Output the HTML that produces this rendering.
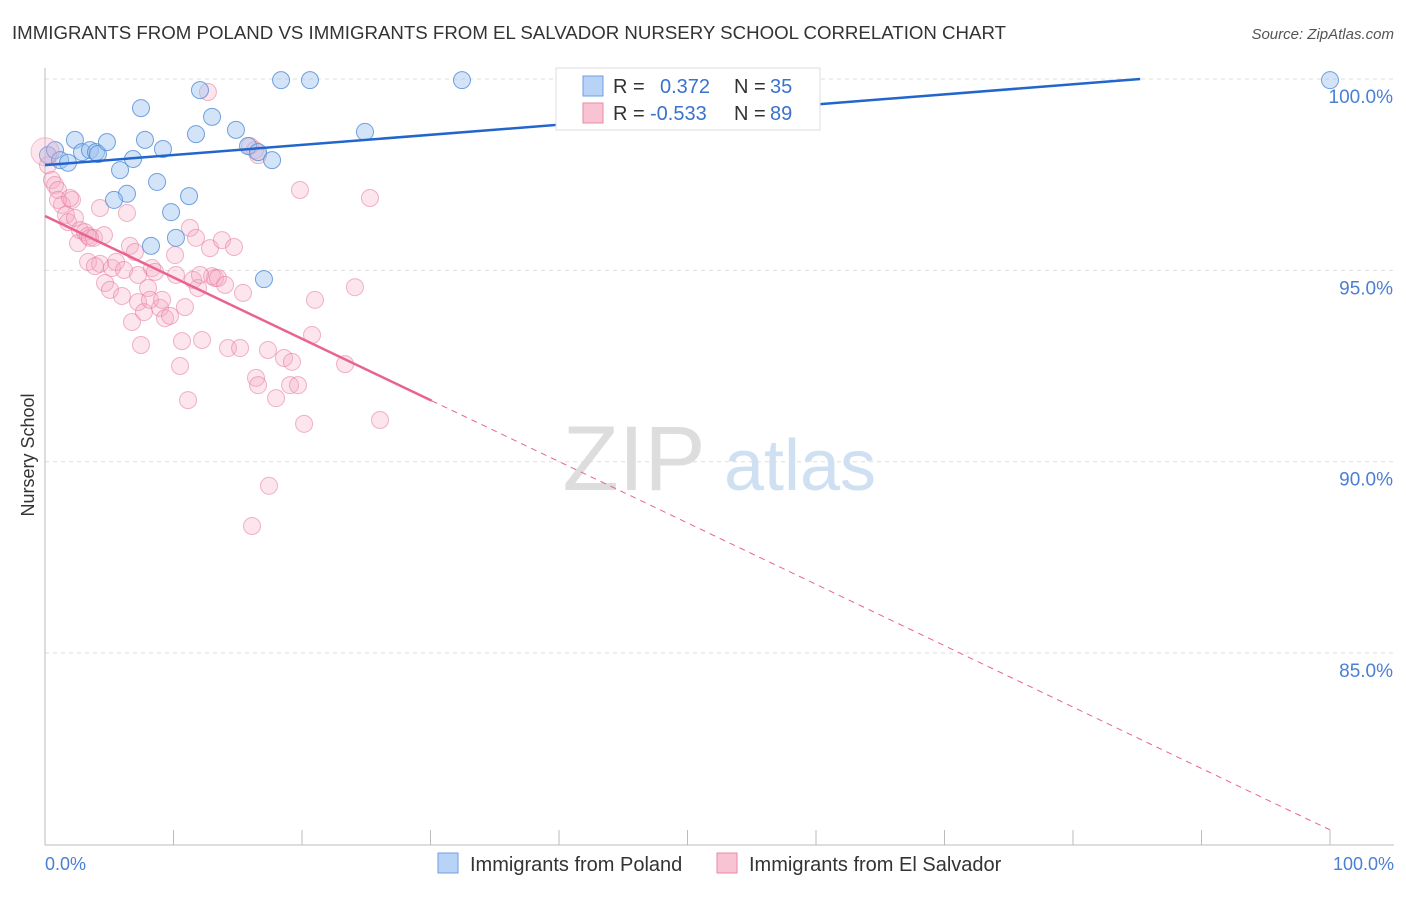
<!DOCTYPE html>
<html><head><meta charset="utf-8"><style>
body{margin:0;background:#fff;font-family:"Liberation Sans",sans-serif;}
svg text{font-family:"Liberation Sans",sans-serif;}
</style></head><body>
<svg width="1406" height="892" viewBox="0 0 1406 892">
<text x="12" y="39" font-size="18" fill="#333" textLength="994" lengthAdjust="spacingAndGlyphs">IMMIGRANTS FROM POLAND VS IMMIGRANTS FROM EL SALVADOR NURSERY SCHOOL CORRELATION CHART</text>
<text x="1394" y="39" font-size="15" fill="#555" text-anchor="end" font-style="italic">Source: ZipAtlas.com</text>
<g>
<text x="634" y="490" font-size="92" fill="#ddd" text-anchor="middle" font-family="Liberation Serif, serif">ZIP</text>
<text x="800" y="490" font-size="72" fill="#cfe0f3" text-anchor="middle">atlas</text>
</g>
<g id="grid"></g>
<g id="axes"></g>
<g id="marks"></g>
<text transform="translate(34,455) rotate(-90)" font-size="18" fill="#333" text-anchor="middle">Nursery School</text>
<text x="45" y="870" font-size="18" fill="#4a7fd4">0.0%</text>
<text x="1394" y="870" font-size="18" fill="#4a7fd4" text-anchor="end">100.0%</text>
<g>
<rect x="556" y="68" width="264" height="62" fill="#fff" stroke="#ddd"/>
<rect x="583" y="76" width="20" height="20" fill="#b8d3f5" stroke="#6d9fe0"/>
<text x="613" y="93" font-size="20" fill="#333">R = </text><text x="660" y="93" font-size="20" fill="#3a72cc">0.372</text>
<text x="734" y="93" font-size="20" fill="#333">N = </text><text x="770" y="93" font-size="20" fill="#3a72cc">35</text>
<rect x="583" y="103" width="20" height="20" fill="#f8c3d2" stroke="#ea8aa7"/>
<text x="613" y="120" font-size="20" fill="#333">R = </text><text x="650" y="120" font-size="20" fill="#3a72cc">-0.533</text>
<text x="734" y="120" font-size="20" fill="#333">N = </text><text x="770" y="120" font-size="20" fill="#3a72cc">89</text>
</g>
<g>
<rect x="438" y="853" width="20" height="20" fill="#b8d3f5" stroke="#6d9fe0"/>
<text x="470" y="871" font-size="20" fill="#333">Immigrants from Poland</text>
<rect x="717" y="853" width="20" height="20" fill="#f8c3d2" stroke="#ea8aa7"/>
<text x="749" y="871" font-size="20" fill="#333">Immigrants from El Salvador</text>
</g>
</svg>
<script>
const yTicks=[100,95,90,85];
const yTickLabels=["100.0%","95.0%","90.0%","85.0%"];
const xTicks=[0,10,20,30,40,50,60,70,80,90,100];
const polandPx=[[48,155],[55,150],[75,140],[60,160],[68,163],[82,152],[90,150],[96,152],[98,154],[107,142],[141,108],[145,140],[133,159],[120,170],[127,194],[157,182],[163,149],[114,200],[171,212],[189,196],[176,238],[151,246],[200,90],[212,117],[196,134],[236,130],[248,146],[258,152],[272,160],[264,279],[281,80],[310,80],[365,132],[462,80],[1330,80]];
const salvPx=[[48,165],[52,180],[55,185],[58,190],[62,205],[66,215],[68,222],[72,200],[75,218],[78,243],[80,230],[85,232],[88,236],[94,238],[100,208],[104,235],[88,262],[100,264],[105,283],[110,290],[112,268],[116,262],[122,296],[124,270],[127,213],[130,246],[132,322],[138,275],[138,302],[141,345],[144,312],[148,288],[152,268],[155,272],[160,308],[165,318],[170,316],[175,255],[176,275],[185,307],[182,341],[180,366],[188,400],[190,228],[193,280],[196,238],[198,288],[202,340],[208,92],[210,248],[212,276],[215,278],[218,278],[222,240],[225,285],[228,348],[234,247],[240,348],[243,293],[250,146],[255,150],[258,155],[252,526],[256,378],[258,385],[268,350],[269,486],[276,398],[284,358],[290,385],[292,362],[298,385],[300,190],[304,424],[312,335],[315,300],[345,364],[355,287],[370,198],[380,420],[58,200],[70,198],[95,266],[150,300],[162,300],[135,252],[200,275],[90,238]];
const polandX=polandPx.map(p=>+((p[0]-45)/12.85).toFixed(2));
const polandY=polandPx.map(p=>+(100-(p[1]-79)/38.27).toFixed(2));
const salvX=salvPx.map(p=>+((p[0]-45)/12.85).toFixed(2));
const salvY=salvPx.map(p=>+(100-(p[1]-79)/38.27).toFixed(2));
const polandTrend=[97.75,100.39];
const salvTrend=[96.42,80.38];
const salvSolidEnd=30.1;

const NS="http://www.w3.org/2000/svg";
const X=v=>45+v*12.85, Y=v=>79+(100-v)*38.27;
function mk(tag,attrs,parent){const e=document.createElementNS(NS,tag);for(const k in attrs)e.setAttribute(k,attrs[k]);parent.appendChild(e);return e;}
const grid=document.getElementById('grid'),axes=document.getElementById('axes'),marks=document.getElementById('marks');
yTicks.forEach((t,i)=>{
 const l=mk('line',{x1:45,x2:1394,y1:Y(t),y2:Y(t),stroke:'#ddd','stroke-dasharray':'4,4'},grid);
 
 
 const tx=mk('text',{x:1393,y:Y(t)+24,'font-size':19,fill:'#4a7fd4','text-anchor':'end'},grid);
 tx.textContent=yTickLabels[i];
 
 
});
let a=mk('line',{x1:45,x2:45,y1:68,y2:845,stroke:'#bbb'},axes);


a=mk('line',{x1:45,x2:1394,y1:845,y2:845,stroke:'#bbb'},axes);


xTicks.forEach(t=>{const l=mk('line',{x1:X(t),x2:X(t),y1:830,y2:845,stroke:'#bbb'},axes);
 
 });
salvX.forEach((x,i)=>{const c=mk('circle',{cx:X(x),cy:Y(salvY[i]),r:8.5,fill:'rgba(246,170,195,0.3)',stroke:'rgba(230,120,155,0.55)','stroke-width':1},marks);
 
 });
polandX.forEach((x,i)=>{const c=mk('circle',{cx:X(x),cy:Y(polandY[i]),r:8.5,fill:'rgba(160,196,240,0.45)',stroke:'rgba(80,140,215,0.8)','stroke-width':1},marks);
 
 });
const bigC=mk('circle',{cx:X(0),cy:Y(98.1),r:14,fill:'rgba(246,170,195,0.3)',stroke:'rgba(230,120,155,0.4)'},marks);


const pEnd=(100-polandTrend[0])/((polandTrend[1]-polandTrend[0])/100);
let t=mk('line',{x1:X(0),y1:Y(polandTrend[0]),x2:X(pEnd),y2:Y(100),stroke:'#2266cc','stroke-width':2.5},marks);


const sy=x=>salvTrend[0]+(salvTrend[1]-salvTrend[0])*x/100;
t=mk('line',{x1:X(0),y1:Y(sy(0)),x2:X(salvSolidEnd),y2:Y(sy(salvSolidEnd)),stroke:'#e8648e','stroke-width':2.5},marks);


t=mk('line',{x1:X(salvSolidEnd),y1:Y(sy(salvSolidEnd)),x2:X(100),y2:Y(sy(100)),stroke:'#e8648e','stroke-width':1,'stroke-dasharray':'6,5'},marks);


</script>
</body></html>
